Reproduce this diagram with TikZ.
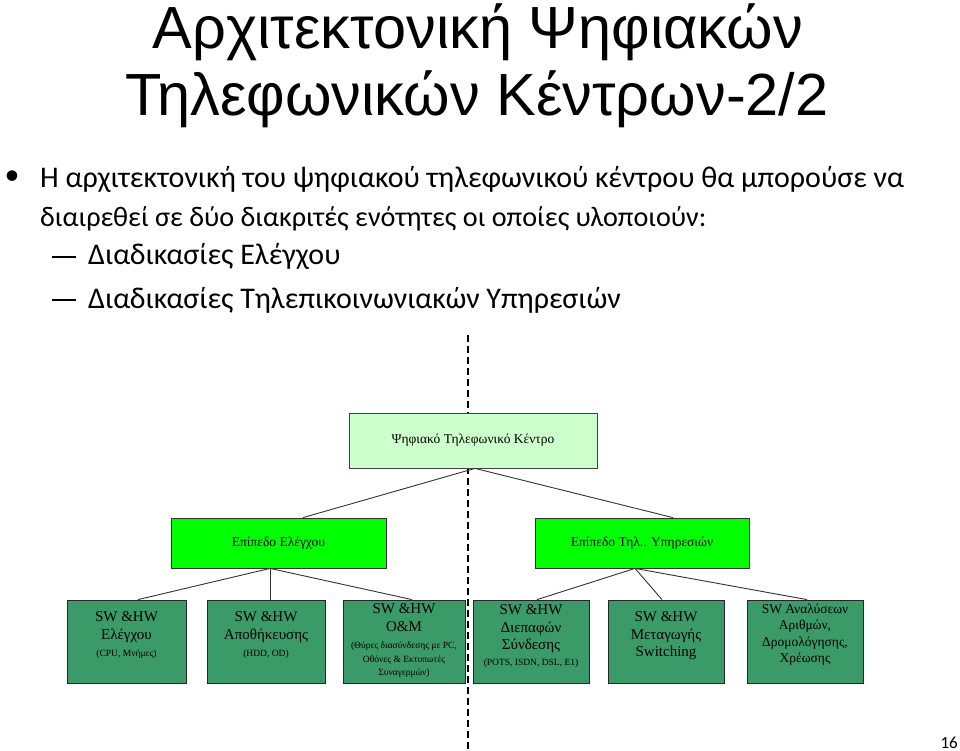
\documentclass[tikz,border=0pt]{standalone}
\usepackage{fontspec}
\setmainfont{Liberation Serif}
\newfontfamily\titlefont{Liberation Sans}
\newfontfamily\bodyfont{Carlito}
\usetikzlibrary{calc}
\definecolor{palegr}{HTML}{CCFFCC}
\definecolor{brightgr}{HTML}{00FF00}
\definecolor{darkgr}{HTML}{3A9A68}
\definecolor{linegr}{HTML}{333333}
\newcommand\boxbig{\fontsize{15}{17.5}\selectfont}
\newcommand\boxsmall{\fontsize{9.5}{12}\selectfont}
\begin{document}
\begin{tikzpicture}[x=1pt,y=-1pt,
  topbox/.style={draw=black!75, line width=0.8pt, fill=palegr, minimum width=248pt, minimum height=55pt, inner sep=0pt, font=\fontsize{13.5}{16}\selectfont},
  midbox/.style={draw=black!80, line width=0.8pt, fill=brightgr, minimum width=215pt, minimum height=50pt, inner sep=0pt, font=\fontsize{13.5}{16}\selectfont},
  lowbox/.style={draw=black!85, line width=0.8pt, fill=darkgr, minimum height=83pt, inner sep=0pt},
  boxtext/.style={anchor=north, align=center, inner sep=0pt, font=\boxbig},
  conn/.style={draw=linegr, line width=0.9pt},
  titletext/.style={anchor=base, font=\titlefont\fontsize{59.5}{66}\selectfont},
  bodytext/.style={anchor=base west, inner sep=0pt, font=\bodyfont\fontsize{30}{36}\selectfont}
]
\useasboundingbox (0,0) rectangle (960,751);

% title
\node[titletext] (t1) at (478,49) {Αρχιτεκτονική Ψηφιακών};
\node[titletext] (t2) at (477,116) {Τηλεφωνικών Κέντρων-2/2};

% bullets
\node[anchor=center, inner sep=0pt, font=\bodyfont\fontsize{30}{36}\selectfont] (bul) at (12,178) {•};
\node[bodytext] (p1) at (40,188) {Η αρχιτεκτονική του ψηφιακού τηλεφωνικού κέντρου θα μπορούσε να};
\node[bodytext, font=\bodyfont\fontsize{28.2}{34}\selectfont] (p2) at (40,227) {διαιρεθεί σε δύο διακριτές ενότητες οι οποίες υλοποιούν:};
\draw[line width=1.6pt] (52,257) -- (76,257);
\draw[line width=1.6pt] (52,300) -- (76,300);
\node[bodytext] (s1) at (88,265) {Διαδικασίες Ελέγχου};
\node[bodytext] (s2) at (88,308) {Διαδικασίες Τηλεπικοινωνιακών Υπηρεσιών};

% dashed divider
\coordinate (dtop) at (468,335);
\coordinate (dbot) at (468,751);
\draw[line width=1.2pt, dash pattern=on 7pt off 4pt] (dtop) -- (dbot);

% boxes
\node[topbox] (top) at (473,440.5) {Ψηφιακό Τηλεφωνικό Κέντρο};
\node[midbox] (L) at (278.5,543) {Επίπεδο Ελέγχου};
\node[midbox, minimum width=214pt] (R) at (642,543) {Επίπεδο Τηλ.. Υπηρεσιών};

\node[lowbox, minimum width=119pt] (b1) at (126.5,641.5) {};
\node[lowbox, minimum width=118pt] (b2) at (266,641.5) {};
\node[lowbox, minimum width=122pt] (b3) at (404,641.5) {};
\node[lowbox, minimum width=116pt] (b4) at (531,641.5) {};
\node[lowbox, minimum width=116pt] (b5) at (666,641.5) {};
\node[lowbox, minimum width=116pt] (b6) at (805,641.5) {};

% box texts
\node[boxtext] (b1t) at ([yshift=-12pt]b1.north) {SW \&HW\\ Ελέγχου\\ {\boxsmall (CPU, Μνήμες)}};
\node[boxtext] (b2t) at ([yshift=-12pt]b2.north) {SW \&HW\\ Αποθήκευσης\\ {\boxsmall (HDD, OD)}};
\node[boxtext] (b3t) at ([yshift=-4pt]b3.north) {SW \&HW\\ O\&M\\ {\boxsmall (Θύρες διασύνδεσης με PC,}\\[-4pt] {\boxsmall Οθόνες \& Εκτυπωτές}\\[-4pt] {\boxsmall Συναγερμών)}};
\node[boxtext] (b4t) at ([yshift=-5pt]b4.north) {SW \&HW\\ Διεπαφών\\ Σύνδεσης\\[-2pt] {\boxsmall (POTS, ISDN, DSL, E1)}};
\node[boxtext] (b5t) at ([yshift=-12pt]b5.north) {SW \&HW\\ Μεταγωγής\\ Switching};
\node[boxtext, font=\fontsize{13.5}{16.5}\selectfont] (b6t) at ([yshift=-4pt]b6.north) {SW Αναλύσεων\\ Αριθμών,\\ Δρομολόγησης,\\ Χρέωσης};

% connectors
\draw[conn] ([xshift=2pt]top.south) -- ([xshift=24.5pt]L.north);
\draw[conn] ([xshift=2pt]top.south) -- ([xshift=31pt]R.north);
\draw[conn] ([xshift=-8.5pt]L.south) -- ([xshift=11.5pt]b1.north);
\draw[conn] ([xshift=-8.5pt]L.south) -- ([xshift=4pt]b2.north);
\draw[conn] ([xshift=-8.5pt]L.south) -- ([xshift=8pt]b3.north);
\draw[conn] ([xshift=-7pt]R.south) -- ([xshift=6pt]b4.north);
\draw[conn] ([xshift=-7pt]R.south) -- ([xshift=-4pt]b5.north);
\draw[conn] ([xshift=-7pt]R.south) -- ([xshift=2pt]b6.north);

% page number
\node[anchor=base east, inner sep=0pt, font=\bodyfont\fontsize{17}{20}\selectfont] (pg) at (958,748) {16};
\end{tikzpicture}
\end{document}
